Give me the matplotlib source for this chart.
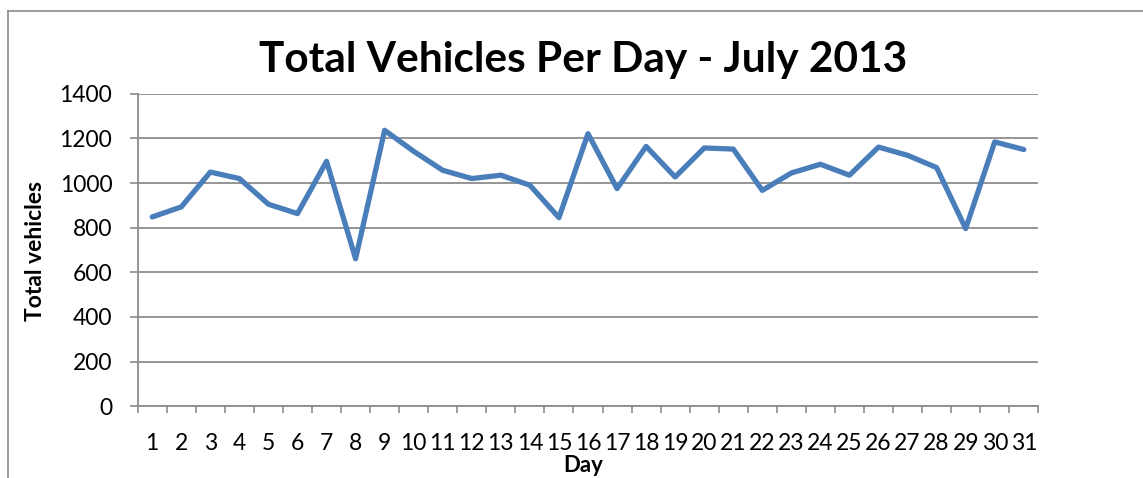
import matplotlib
matplotlib.use("Agg")
import matplotlib.pyplot as plt
from matplotlib.lines import Line2D
import numpy as np

days = list(range(1, 32))
vehicles = [848, 893, 1049, 1020, 905, 863, 1097, 661, 1236, 1142,
            1057, 1020, 1035, 990, 845, 1221, 975, 1164, 1027, 1157,
            1152, 967, 1045, 1084, 1035, 1161, 1124, 1069, 796, 1184, 1150]
y_ticks = [0, 200, 400, 600, 800, 1000, 1200, 1400]
title = "Total Vehicles Per Day - July 2013"
xlabel = "Day"
ylabel = "Total vehicles"

plt.rcParams['font.family'] = ['Lato', 'DejaVu Sans']

W, H = 1143, 478
fig = plt.figure(figsize=(W / 100, H / 100), dpi=100)
fig.patch.set_facecolor('white')

# outer chart frame (left and top edges visible)
fig.add_artist(Line2D([8 / W, 8 / W], [0, 1 - 11 / H], transform=fig.transFigure,
                      color='#8c8c8c', lw=1.2))
fig.add_artist(Line2D([8 / W, 1], [1 - 11 / H, 1 - 11 / H], transform=fig.transFigure,
                      color='#8c8c8c', lw=1.2))

ax = fig.add_axes([137.7 / W, 71.7 / H, (1038.3 - 137.7) / W, (406.3 - 93.7) / H])
ax.plot(days, vehicles, color='#4A7EBB', lw=3.8, solid_capstyle='round',
        solid_joinstyle='round', zorder=3)

ax.set_xlim(0.5, 31.5)
ax.set_ylim(0, 1400)
ax.set_yticks(y_ticks)
ax.set_yticklabels([str(v) for v in y_ticks], fontsize=16.5)
ax.set_xticks(days)
ax.set_xticklabels([str(d) for d in days], fontsize=16.5)
ax.set_xticks(np.arange(0.5, 32, 1), minor=True)
ax.tick_params(axis='x', which='major', length=0, pad=19)
ax.tick_params(axis='x', which='minor', length=5, width=1.2, color='#8c8c8c')
ax.tick_params(axis='y', length=5.8, width=1.2, color='#8c8c8c', pad=12.5)

ax.grid(axis='y', color='#8c8c8c', lw=1.3)
ax.set_axisbelow(True)
for s in ['top', 'right']:
    ax.spines[s].set_visible(False)
for s in ['left', 'bottom']:
    ax.spines[s].set_color('#8c8c8c')
    ax.spines[s].set_linewidth(1.3)

fig.text(583 / W, 1 - 60 / H, title, ha='center', va='center', fontsize=30.5,
         fontweight='bold')
fig.text(35 / W, 1 - 251 / H, ylabel, ha='center', va='center', rotation=90,
         fontsize=16.5, fontweight='bold')
fig.text(583 / W, 1 - 466 / H, xlabel, ha='center', va='center',
         fontsize=16, fontweight='bold')

fig.savefig('out.png', dpi=100)
